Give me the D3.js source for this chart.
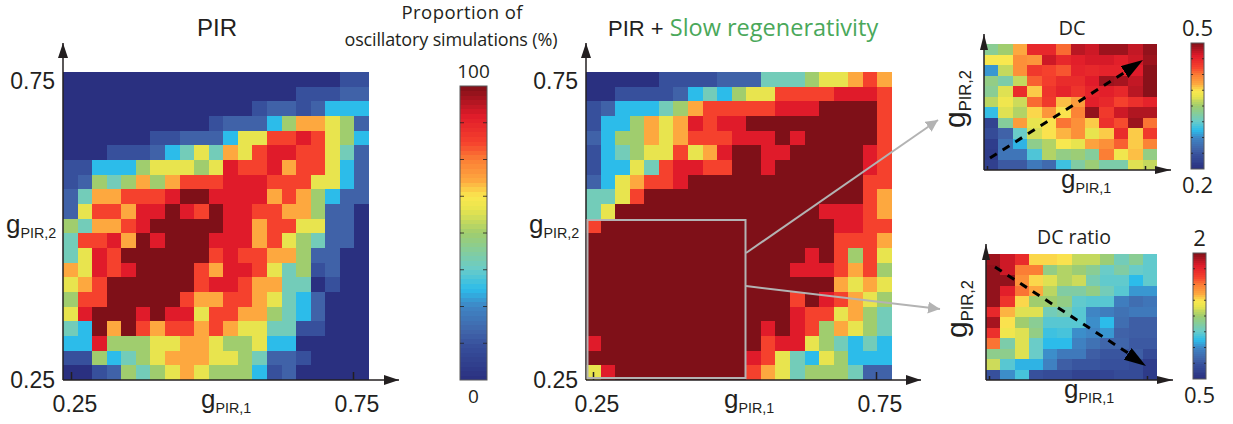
<!DOCTYPE html>
<html>
<head>
<meta charset="utf-8">
<script src="https://cdnjs.cloudflare.com/ajax/libs/d3/7.8.5/d3.min.js"></script>
<style>
  html, body { margin: 0; padding: 0; background: #fff; }
  svg { display: block; }
  text { fill: #231f20; }
  .sans { font-family: "Liberation Sans", Arial, sans-serif; }
  .myriad { font-family: "Open Sans", "Noto Sans", sans-serif; }
</style>
</head>
<body>
<svg id="chart" width="1233" height="424"></svg>
<script>
// proportion levels (%) seen in the two big maps
const N = 0, B = 12, L = 16, C = 31, T = 40, G = 50, Y = 58, O = 68, R = 81, E = 90, D = 100;

const pirValues = [
  [N,N,N,N,N,N,N,N,N,N,N,N,N,N,N,N,N,N,N,B,B],
  [N,N,N,N,N,N,N,N,N,N,N,N,N,N,N,N,B,B,B,L,L],
  [N,N,N,N,N,N,N,N,N,N,N,N,N,B,L,L,B,L,C,C,C],
  [N,N,N,N,N,N,N,N,N,N,B,L,L,L,C,G,O,O,Y,G,L],
  [N,N,N,N,N,N,B,B,L,L,L,C,Y,Y,R,R,E,R,Y,G,C],
  [N,N,N,B,B,B,L,C,T,Y,T,O,Y,R,E,E,R,R,Y,T,L],
  [B,B,C,C,C,G,Y,Y,Y,G,Y,E,R,R,E,O,R,R,Y,C,L],
  [B,L,G,T,G,O,G,O,R,R,R,E,E,E,R,R,R,Y,Y,C,L],
  [L,T,O,O,R,R,R,E,D,D,E,E,E,E,O,R,O,G,C,L,L],
  [L,Y,R,R,O,E,E,D,E,R,D,E,E,R,R,O,O,G,L,L,N],
  [G,T,O,O,R,E,D,D,D,D,D,E,E,O,R,R,Y,Y,L,L,N],
  [T,R,R,E,O,D,E,D,D,D,E,E,E,O,R,Y,G,T,L,L,N],
  [T,Y,E,R,D,D,D,D,D,D,R,E,R,R,O,O,G,L,L,N,N],
  [O,Y,E,R,E,D,D,D,D,R,O,E,E,R,Y,T,G,B,L,N,N],
  [Y,O,R,D,D,D,D,D,D,R,E,E,R,O,O,T,T,N,B,N,N],
  [G,R,R,D,D,D,D,D,R,O,O,R,R,O,Y,T,C,L,N,N,N],
  [Y,E,D,D,D,E,D,E,E,Y,R,R,O,O,G,T,C,L,N,N,N],
  [T,C,D,O,D,R,O,R,R,O,R,O,Y,Y,T,T,B,B,N,N,N],
  [C,C,E,G,G,G,Y,Y,O,O,Y,G,G,Y,C,C,N,N,N,N,N],
  [B,B,G,C,T,G,Y,O,O,O,Y,Y,G,T,L,L,B,N,N,N,N],
  [N,N,B,L,G,T,G,Y,O,Y,G,G,G,C,B,L,N,N,N,N,N]
];

const slowValues = [
  [N,N,N,N,N,B,B,B,B,L,L,L,T,T,T,G,Y,Y,O,R,O],
  [N,N,B,B,B,B,L,C,T,C,G,Y,Y,R,R,R,R,E,E,E,R],
  [B,L,C,C,C,T,G,O,R,R,R,R,R,E,E,E,D,D,D,D,R],
  [B,C,C,G,O,Y,O,E,R,E,E,D,D,D,D,D,D,D,D,D,R],
  [L,C,G,G,O,Y,O,R,R,R,E,E,E,D,E,D,D,D,D,D,R],
  [B,C,T,G,Y,Y,R,Y,O,E,D,D,E,E,D,D,D,D,D,E,R],
  [B,C,C,Y,T,R,E,E,R,R,D,D,E,D,D,D,D,D,D,E,R],
  [L,C,Y,O,R,R,E,D,D,D,D,D,D,D,D,D,D,D,D,R,R],
  [T,T,Y,R,D,D,D,D,D,D,D,D,D,D,D,D,D,D,D,R,O],
  [T,Y,D,D,D,D,D,D,D,D,D,D,D,D,D,D,E,E,E,R,O],
  [R,D,D,D,D,D,D,D,D,D,D,D,D,D,D,D,D,E,E,R,R],
  [D,D,D,D,D,D,D,D,D,D,D,D,D,D,D,D,D,R,R,R,O],
  [D,D,D,D,D,D,D,D,D,D,D,D,D,D,D,E,D,R,G,R,Y],
  [D,D,D,D,D,D,D,D,D,D,D,D,D,D,E,E,E,R,O,R,G],
  [D,D,D,D,D,D,D,D,D,D,D,D,D,D,D,D,D,O,Y,O,Y],
  [D,D,D,D,D,D,D,D,D,D,D,D,D,D,R,D,E,R,O,Y,G],
  [D,D,D,D,D,D,D,D,D,D,D,D,D,D,E,R,R,Y,O,G,T],
  [D,D,D,D,D,D,D,D,D,D,D,D,E,D,E,R,G,O,Y,G,T],
  [E,D,D,D,D,D,D,D,D,D,D,D,R,E,E,Y,G,T,C,T,C],
  [D,D,D,D,D,D,D,D,D,D,D,E,R,Y,T,C,Y,G,C,C,C],
  [Y,E,D,D,D,D,D,D,D,D,D,R,O,Y,T,G,G,G,T,L,L]
];

// both small maps are stored as % of their own colour bar
const dcValues = [
  [45,50,68,87,87,77,94,92,97,97,93,98],
  [62,62,72,71,92,87,89,91,91,89,92,97],
  [27,54,72,83,81,79,88,87,88,88,90,99],
  [47,42,54,78,82,86,86,90,97,96,93,99],
  [45,57,86,65,84,88,84,88,89,87,94,99],
  [53,60,55,77,83,66,70,89,87,81,85,88],
  [32,57,52,64,71,63,74,98,83,92,95,95],
  [7,44,70,58,63,76,72,65,85,80,97,76],
  [10,16,38,56,63,67,72,58,65,86,65,83],
  [5,20,30,46,52,62,58,69,72,78,65,74],
  [4,21,21,35,52,47,49,44,75,60,66,47],
  [6,14,14,22,18,33,43,49,42,42,57,54]
];

const ratioValues = [
  [97,92,86,64,64,63,54,54,49,40,45,37],
  [98,92,75,75,47,52,49,45,38,43,38,37],
  [98,98,72,64,57,52,55,41,37,37,31,37],
  [98,89,76,68,53,43,43,47,40,36,27,27],
  [98,84,64,50,50,47,37,36,36,23,19,21],
  [87,67,57,57,40,42,36,25,23,20,22,22],
  [96,63,50,45,36,36,36,26,31,19,15,15],
  [85,60,57,47,33,34,26,25,27,16,15,15],
  [76,42,57,38,31,31,24,20,17,17,14,14],
  [46,46,57,38,26,22,22,15,13,13,15,10],
  [55,36,30,30,24,15,13,13,12,12,10,5],
  [12,26,34,12,10,10,7,7,8,10,10,4]
];

const axisTicks = [0.25, 0.75];

const jetStops = [0, 12, 16, 25, 31, 38, 50, 58, 62.5, 68, 75, 81, 90, 100];
const jetColors = ["#2a3080", "#37509c", "#4062a8", "#3f85c4", "#2cbcea", "#6accc8", "#a0cd6e",
                   "#e8e44e", "#fae84f", "#fda83f", "#fb7e35", "#f5412d", "#e01b2a", "#7f1018"];
const color = d3.scaleLinear().domain(jetStops).range(jetColors);

const svg = d3.select("#chart");
const defs = svg.append("defs");

function addMarker(id, fill, w, h) {
  defs.append("marker")
      .attr("id", id)
      .attr("viewBox", "0 " + (-h / 2) + " " + w + " " + h)
      .attr("refX", w)
      .attr("markerUnits", "userSpaceOnUse")
      .attr("markerWidth", w)
      .attr("markerHeight", h)
      .attr("orient", "auto")
    .append("path")
      .attr("d", "M0," + (-h / 2) + "L" + w + ",0L0," + (h / 2) + "Z")
      .attr("fill", fill);
}
addMarker("axisHead", "#231f20", 15, 10);
addMarker("smallHead", "#231f20", 16, 8);
addMarker("grayHead", "#b3b3b3", 12, 12);
addMarker("blackHead", "#000", 22, 14);

function drawMap(values, box) {
  const x = d3.scaleBand().domain(d3.range(values[0].length)).range([box.x0, box.x1]);
  const y = d3.scaleBand().domain(d3.range(values.length)).range([box.y0, box.y1]);
  const g = svg.append("g").attr("shape-rendering", "crispEdges");
  values.forEach(function (row, j) {
    g.selectAll(null)
      .data(row)
      .enter().append("rect")
        .attr("x", function (d, i) { return x(i); })
        .attr("y", y(j))
        .attr("width", x.bandwidth())
        .attr("height", y.bandwidth())
        .attr("fill", function (d) { return color(d); });
  });
}

function drawAxes(box) {
  const xAxisScale = d3.scaleLinear().domain(axisTicks).range(box.xTicks);
  const xAxis = svg.append("g")
      .attr("transform", "translate(0," + box.y1 + ")")
      .call(d3.axisBottom(xAxisScale).tickValues(axisTicks).tickSize(-box.tick).tickFormat(""));
  xAxis.select(".domain").remove();
  xAxis.selectAll(".tick line").attr("stroke", "#231f20").attr("stroke-width", 1.5);

  svg.append("line")
      .attr("x1", box.x0).attr("y1", box.y1)
      .attr("x2", box.xTip).attr("y2", box.y1)
      .attr("stroke", "#231f20").attr("stroke-width", 1.5)
      .attr("marker-end", box.big ? "url(#axisHead)" : "url(#smallHead)");
  svg.append("line")
      .attr("x1", box.x0).attr("y1", box.y1)
      .attr("x2", box.x0).attr("y2", box.yTip)
      .attr("stroke", "#231f20").attr("stroke-width", 1.5)
      .attr("marker-end", box.big ? "url(#axisHead)" : "url(#smallHead)");

  if (box.big) {
    // printed numbers sit a bit off their ticks in the original
    svg.selectAll(null)
      .data(axisTicks)
      .enter().append("text")
        .attr("class", "sans")
        .attr("x", function (d) { return xAxisScale(d) + 4; })
        .attr("y", box.y1 + 32)
        .attr("text-anchor", "middle")
        .attr("font-size", 23)
        .text(function (d) { return d3.format(".2f")(d); });
    const yAxisScale = d3.scaleLinear().domain(axisTicks).range(box.yTicks);
    svg.selectAll(null)
      .data(axisTicks)
      .enter().append("text")
        .attr("class", "sans")
        .attr("x", box.x0 - 8)
        .attr("y", function (d) { return yAxisScale(d) + 8; })
        .attr("text-anchor", "end")
        .attr("font-size", 23)
        .text(function (d) { return d3.format(".2f")(d); });
  }
}

function gLabel(x, y, sub, size, rotate) {
  const t = svg.append("text")
      .attr("class", "sans")
      .attr("transform", "translate(" + x + "," + y + ")" + (rotate ? " rotate(-90)" : ""))
      .attr("font-size", size);
  t.append("tspan").text("g");
  t.append("tspan").attr("font-size", size * 0.55).attr("dy", size * 0.2).text(sub);
}

function drawColorbar(b) {
  const y = d3.scaleLinear().domain([0, 100]).range([b.y1, b.y0]);
  const steps = d3.range(0, 100, 100 / 64);
  svg.append("g").attr("shape-rendering", "crispEdges").selectAll("rect")
    .data(steps)
    .enter().append("rect")
      .attr("x", b.x0)
      .attr("width", b.x1 - b.x0)
      .attr("y", function (d) { return y(d + 100 / 64); })
      .attr("height", (b.y1 - b.y0) / 64 + 0.4)
      .attr("fill", function (d) { return color(d + 50 / 64); });
  svg.append("rect")
      .attr("x", b.x0).attr("y", b.y0)
      .attr("width", b.x1 - b.x0).attr("height", b.y1 - b.y0)
      .attr("fill", "none").attr("stroke", "#58595b").attr("stroke-width", 1);
  const tickVals = d3.range(12.5, 100, 12.5);
  [[b.x0, b.x0 + b.tick], [b.x1 - b.tick, b.x1]].forEach(function (s) {
    svg.append("g").selectAll("line")
      .data(tickVals)
      .enter().append("line")
        .attr("x1", s[0]).attr("x2", s[1])
        .attr("y1", function (d) { return y(d); })
        .attr("y2", function (d) { return y(d); })
        .attr("stroke", "#231f20").attr("stroke-width", 0.8);
  });
  const cx = (b.x0 + b.x1) / 2;
  svg.append("text").attr("class", "myriad").attr("x", cx).attr("y", b.y0 - b.topGap)
      .attr("text-anchor", "middle").attr("font-size", b.size).text(b.top);
  svg.append("text").attr("class", "myriad").attr("x", cx).attr("y", b.y1 + b.botGap)
      .attr("text-anchor", "middle").attr("font-size", b.size).text(b.bottom);
}

// maps
const pirBox = { x0: 63, x1: 369, y0: 72, y1: 380, xTicks: [71, 353], yTicks: [380, 81], xTip: 399, yTip: 43, tick: 8, big: true };
const slowBox = { x0: 586, x1: 892, y0: 72, y1: 380, xTicks: [593, 876], yTicks: [380, 81], xTip: 921, yTip: 43, tick: 8, big: true };
const dcBox = { x0: 984, x1: 1157, y0: 44, y1: 170, xTicks: [987, 1145], xTip: 1171, yTip: 34, tick: 4 };
const ratioBox = { x0: 986, x1: 1157, y0: 254, y1: 380, xTicks: [989, 1147], xTip: 1173, yTip: 244, tick: 4 };

drawMap(pirValues, pirBox);
drawMap(slowValues, slowBox);
drawMap(dcValues, dcBox);
drawMap(ratioValues, ratioBox);

drawAxes(pirBox);
drawAxes(slowBox);
drawAxes(dcBox);
drawAxes(ratioBox);

// zoom frame and the two callout arrows
svg.append("rect")
    .attr("x", 587.5).attr("y", 220)
    .attr("width", 158).attr("height", 158)
    .attr("fill", "none").attr("stroke", "#b3b3b3").attr("stroke-width", 2);
svg.append("line")
    .attr("x1", 746).attr("y1", 253).attr("x2", 938).attr("y2", 120)
    .attr("stroke", "#b3b3b3").attr("stroke-width", 2).attr("marker-end", "url(#grayHead)");
svg.append("line")
    .attr("x1", 746).attr("y1", 286).attr("x2", 940).attr("y2", 309)
    .attr("stroke", "#b3b3b3").attr("stroke-width", 2).attr("marker-end", "url(#grayHead)");

// dashed direction arrows on the small maps
svg.append("line")
    .attr("x1", 990).attr("y1", 158).attr("x2", 1130).attr("y2", 69)
    .attr("stroke", "#000").attr("stroke-width", 3).attr("stroke-dasharray", "8 7");
svg.append("line")
    .attr("x1", 1120).attr("y1", 75).attr("x2", 1143).attr("y2", 60)
    .attr("stroke", "none").attr("marker-end", "url(#blackHead)");
svg.append("line")
    .attr("x1", 995).attr("y1", 267).attr("x2", 1128).attr("y2", 353)
    .attr("stroke", "#000").attr("stroke-width", 3).attr("stroke-dasharray", "8 7");
svg.append("line")
    .attr("x1", 1122).attr("y1", 350).attr("x2", 1146).attr("y2", 366)
    .attr("stroke", "none").attr("marker-end", "url(#blackHead)");

drawColorbar({ x0: 460, x1: 487, y0: 86, y1: 380, tick: 4, top: "100", bottom: "0", size: 19, topGap: 8, botGap: 23 });
drawColorbar({ x0: 1191, x1: 1204, y0: 43, y1: 169, tick: 2, top: "0.5", bottom: "0.2", size: 22, topGap: 7, botGap: 24 });
drawColorbar({ x0: 1193, x1: 1206, y0: 253, y1: 379, tick: 2, top: "2", bottom: "0.5", size: 22, topGap: 7, botGap: 24 });

// titles
svg.append("text").attr("class", "sans").attr("x", 217).attr("y", 36)
    .attr("text-anchor", "middle").attr("font-size", 24).text("PIR");
svg.append("text").attr("class", "myriad").attr("x", 462).attr("y", 19)
    .attr("text-anchor", "middle").attr("font-size", 18.5)
    .attr("textLength", 121).text("Proportion of");
svg.append("text").attr("class", "myriad").attr("x", 451).attr("y", 46)
    .attr("text-anchor", "middle").attr("font-size", 18)
    .attr("textLength", 213).text("oscillatory simulations (%)");
const both = svg.append("text").attr("class", "sans").attr("x", 608).attr("y", 36).attr("font-size", 22);
both.append("tspan").text("PIR + ");
both.append("tspan").attr("class", "myriad").attr("font-size", 23.5).attr("style", "fill:#4aa85a").text("Slow regenerativity");
svg.append("text").attr("class", "myriad").attr("x", 1072).attr("y", 35)
    .attr("text-anchor", "middle").attr("font-size", 20).text("DC");
svg.append("text").attr("class", "myriad").attr("x", 1074).attr("y", 244)
    .attr("text-anchor", "middle").attr("font-size", 19.5).text("DC ratio");

gLabel(201, 408, "PIR,1", 26);
gLabel(6, 233, "PIR,2", 26);
gLabel(724, 408, "PIR,1", 26);
gLabel(529, 233, "PIR,2", 26);
gLabel(1061, 188, "PIR,1", 26);
gLabel(965, 128, "PIR,2", 30, true);
gLabel(1064, 398, "PIR,1", 26);
gLabel(967, 338, "PIR,2", 30, true);
</script>
</body>
</html>
